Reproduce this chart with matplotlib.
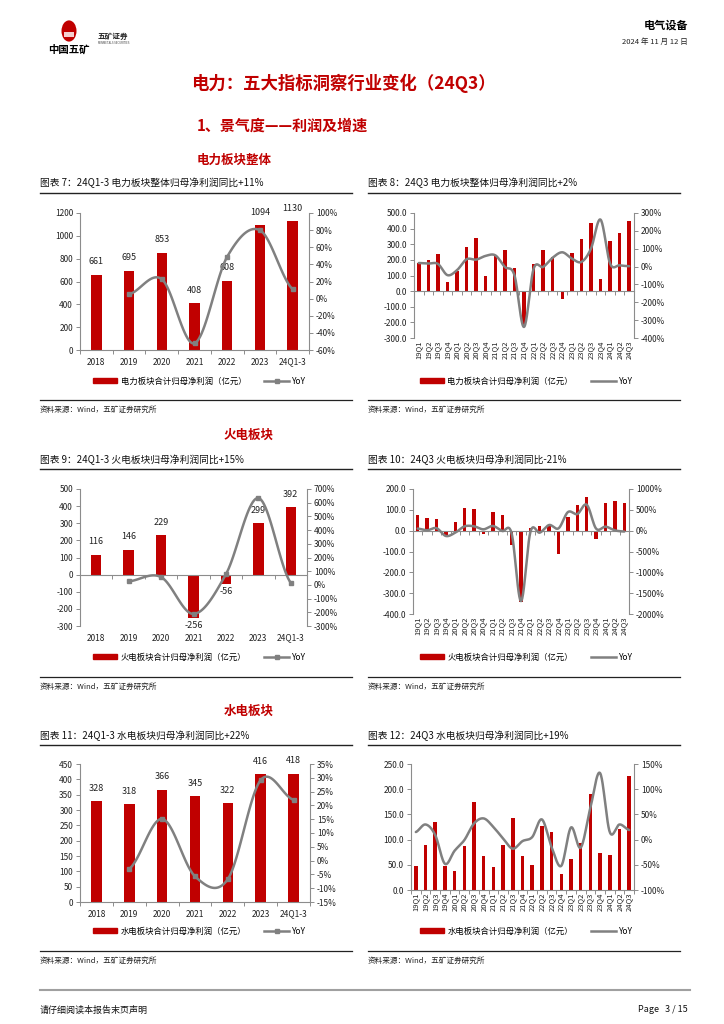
import numpy as np
import matplotlib
matplotlib.use("Agg")
import matplotlib.pyplot as plt
from matplotlib.patches import Patch, Circle, Rectangle
from matplotlib.lines import Line2D
from matplotlib.transforms import blended_transform_factory

plt.rcParams['font.family'] = ['Noto Sans CJK SC', 'DejaVu Sans']
plt.rcParams['axes.unicode_minus'] = False

RED = '#C00000'
GREY = '#808080'
SPINE = '#8c8c8c'
W, H = 724, 1024

# ---- data ----
years = ['2018', '2019', '2020', '2021', '2022', '2023', '24Q1-3']
quarters = ['19Q1', '19Q2', '19Q3', '19Q4', '20Q1', '20Q2', '20Q3', '20Q4',
            '21Q1', '21Q2', '21Q3', '21Q4', '22Q1', '22Q2', '22Q3', '22Q4',
            '23Q1', '23Q2', '23Q3', '23Q4', '24Q1', '24Q2', '24Q3']

# 电力板块整体
power_year = [661, 695, 853, 408, 608, 1094, 1130]
power_year_yoy = [np.nan, 5.1, 22.7, -52.2, 49.0, 79.9, 11.0]
power_q = [180, 200, 240, 61, 127, 280, 340, 95, 225, 262, 148, -225,
           173, 262, 217, -48, 243, 331, 437, 78, 320, 369, 447]
power_q_yoy = [20, 17, 15, -48, -20, 41, 39, 60, 63, -2, -48, -338,
               -13, -2, 50, 80, 45, 26, 100, 263, 17, 7, 2]

# 火电板块
thermal_year = [116, 146, 229, -256, -56, 299, 392]
thermal_year_yoy = [np.nan, 26, 57, -212, 78, 634, 15]
thermal_q = [73, 59, 54, -25, 43, 108, 104, -18, 89, 73, -67, -343,
             11, 24, 25, -113, 64, 121, 161, -38, 131, 142, 131]
thermal_q_yoy = [50, 10, 60, -128, -48, 104, 104, 32, 112, -8, -64, -1690,
                 -32, -48, 136, 56, 447, 400, 622, 48, 96, 8, -21]

# 水电板块
hydro_year = [328, 318, 366, 345, 322, 416, 418]
hydro_year_yoy = [np.nan, -3.0, 15.1, -5.7, -6.7, 29.2, 22.0]
hydro_q = [48, 90, 134, 48, 37, 87, 175, 68, 46, 90, 142, 67,
           50, 126, 115, 32, 61, 93, 190, 73, 70, 122, 226]
hydro_q_yoy = [15, 30, 9, -48, -22, -1, 32, 42, 25, 2, -18, -3,
               5, 40, -15, -52, 24, -16, 63, 132, 15, 30, 19]


def px_axes(fig, l, t, r, b):
    return fig.add_axes([l / W, 1 - b / H, (r - l) / W, (b - t) / H])


def smooth(x, y, n=24):
    # Excel-like smoothed line (Catmull-Rom / Hermite through the points)
    x = np.asarray(x, float)
    y = np.asarray(y, float)
    k = len(y)
    m = np.zeros(k)
    for i in range(k):
        if i == 0:
            m[i] = (y[1] - y[0]) / 2
        elif i == k - 1:
            m[i] = (y[-1] - y[-2]) / 2
        else:
            m[i] = (y[i + 1] - y[i - 1]) / 2
    xs, ys = [], []
    t = np.linspace(0, 1, n)
    for i in range(k - 1):
        h00 = 2 * t**3 - 3 * t**2 + 1
        h10 = t**3 - 2 * t**2 + t
        h01 = -2 * t**3 + 3 * t**2
        h11 = t**3 - t**2
        ys.append(h00 * y[i] + h10 * m[i] + h01 * y[i + 1] + h11 * m[i + 1])
        xs.append(x[i] + t * (x[i + 1] - x[i]))
    return np.concatenate(xs), np.concatenate(ys)


def style_axes(ax, ax2):
    for a in (ax, ax2):
        a.spines['top'].set_visible(False)
        for s in ('left', 'right', 'bottom'):
            a.spines[s].set_color(SPINE)
            a.spines[s].set_linewidth(0.8)
    ax.spines['right'].set_visible(False)
    ax2.spines['left'].set_visible(False)
    ax2.spines['bottom'].set_visible(False)
    for a in (ax, ax2):
        a.tick_params(axis='y', direction='out', length=3, width=0.7, color=SPINE,
                      labelsize=6, pad=2, labelcolor='#222222')


def draw_chart(fig, box, cats, vals, yoy, ylim, ystep, y2lim, y2step,
               yfmt, annual, legend_label, legend_pos):
    ax = px_axes(fig, *box)
    ax2 = ax.twinx()
    n = len(cats)
    x = np.arange(n)
    width = 0.32 if annual else 0.36
    ax.bar(x, vals, width=width, color=RED, zorder=2)
    ax.set_xlim(-0.5, n - 0.5)
    ax.set_ylim(*ylim)
    ax.set_yticks(np.arange(ylim[0], ylim[1] + ystep / 2, ystep))
    ax.yaxis.set_major_formatter(plt.FuncFormatter(lambda v, p: yfmt.format(v)))
    ax2.set_ylim(*y2lim)
    ax2.set_yticks(np.arange(y2lim[0], y2lim[1] + y2step / 2, y2step))
    ax2.yaxis.set_major_formatter(plt.FuncFormatter(lambda v, p: '{:.0f}%'.format(v)))
    style_axes(ax, ax2)

    # zero line as x axis with ticks between categories
    ax.spines['bottom'].set_position(('data', 0))
    ax.set_xticks([])
    ax.set_xticks(np.arange(-0.5, n, 1.0), minor=True)
    ax.tick_params(axis='x', which='minor', direction='out', length=3,
                   width=0.7, color=SPINE)
    trans = blended_transform_factory(ax.transData, ax.transAxes)
    for i, c in enumerate(cats):
        if annual:
            ax.annotate(c, xy=(i, 0), xycoords=trans, xytext=(0, -5.5),
                        textcoords='offset points', ha='center', va='top',
                        fontsize=6, color='#222222')
        else:
            ax.annotate(c, xy=(i, 0), xycoords=trans, xytext=(0, -2),
                        textcoords='offset points', ha='center', va='top',
                        rotation=90, fontsize=5.5, color='#222222')

    # yoy line
    yy = np.asarray(yoy, float)
    ok = ~np.isnan(yy)
    sx, sy = smooth(x[ok], yy[ok])
    ax2.plot(sx, sy, color=GREY, lw=1.8, zorder=3, solid_capstyle='round')
    if annual:
        ax2.plot(x[ok], yy[ok], ls='none', marker='s', ms=3.5, color=GREY, zorder=4)
        for i, v in enumerate(vals):
            if v >= 0:
                ax.annotate(str(v), xy=(i, v), xytext=(0, 6), textcoords='offset points',
                            ha='center', va='bottom', fontsize=6.5, color='#222222')
            else:
                ax.annotate(str(v), xy=(i, v), xytext=(0, -2), textcoords='offset points',
                            ha='center', va='top', fontsize=6.5, color='#222222')
    ax.set_zorder(ax2.get_zorder() - 1)
    ax.patch.set_visible(False)

    handles = [Patch(color=RED),
               Line2D([0], [0], color=GREY, lw=1.8,
                      marker='s' if annual else None, ms=3.5)]
    fig.legend(handles, [legend_label, 'YoY'], loc='center left',
               bbox_to_anchor=(legend_pos[0] / W, 1 - legend_pos[1] / H),
               ncol=2, frameon=False, fontsize=6, handlelength=2.9,
               handleheight=0.6, columnspacing=2.2, handletextpad=0.4,
               borderaxespad=0, borderpad=0)
    return ax


def frame(fig, x0, x1, y_title, y_line, y_bottom, title):
    fig.text(x0 / W, 1 - y_title / H, title, fontsize=7, va='center', ha='left', color='#111111')
    fig.add_artist(Line2D([x0 / W, x1 / W], [1 - y_line / H] * 2, color='#222222', lw=1.0))
    fig.add_artist(Line2D([x0 / W, x1 / W], [1 - y_bottom / H] * 2, color='#222222', lw=0.9))
    fig.text(x0 / W, 1 - (y_bottom + 10) / H, '资料来源：Wind，五矿证券研究所',
             fontsize=5.5, va='center', ha='left', color='#222222')


fig = plt.figure(figsize=(7.24, 10.24), dpi=100)

# ---- header ----
fig.add_artist(Circle((69 / W, 1 - 31 / H), 7.5 / W, transform=fig.transFigure,
                      color=RED, ec='none'))
fig.add_artist(Rectangle((64 / W, 1 - 37 / H), 10 / W, 5 / H, transform=fig.transFigure,
                         color='#f4d0d0', ec='none'))
fig.text(69 / W, 1 - 49 / H, '中国五矿', fontsize=7.5, weight='bold', ha='center', va='center')
fig.text(98 / W, 1 - 36 / H, '五矿证券', fontsize=5.5, weight='bold', ha='left', va='center',
         color='#222222')
fig.text(98 / W, 1 - 43 / H, 'MINMETALS SECURITIES', fontsize=2.0, ha='left', va='center',
         color='#444444')
fig.text(688 / W, 1 - 25 / H, '电气设备', fontsize=8, weight='bold', ha='right', va='center')
fig.text(688 / W, 1 - 42 / H, '2024 年 11 月 12 日', fontsize=5.5, ha='right', va='center',
         color='#222222')

fig.text(343 / W, 1 - 83 / H, '电力：五大指标洞察行业变化（24Q3）', fontsize=12.5,
         weight='bold', ha='center', va='center', color=RED)
fig.text(197 / W, 1 - 126 / H, '1、景气度——利润及增速', fontsize=10.8, weight='bold',
         ha='left', va='center', color=RED)
fig.text(197 / W, 1 - 160 / H, '电力板块整体', fontsize=9, weight='bold',
         ha='left', va='center', color=RED)
fig.text(224 / W, 1 - 435 / H, '火电板块', fontsize=9, weight='bold',
         ha='left', va='center', color=RED)
fig.text(224 / W, 1 - 711 / H, '水电板块', fontsize=9, weight='bold',
         ha='left', va='center', color=RED)

# ---- charts ----
frame(fig, 40, 352, 183, 193, 400, '图表 7：24Q1-3 电力板块整体归母净利润同比+11%')
draw_chart(fig, (80, 213, 309, 350), years, power_year, power_year_yoy,
           (0, 1200), 200, (-60, 100), 20, '{:.0f}', True,
           '电力板块合计归母净利润（亿元）', (93, 381))

frame(fig, 368, 680, 183, 193, 400, '图表 8：24Q3 电力板块整体归母净利润同比+2%')
draw_chart(fig, (414, 213, 634, 338), quarters, power_q, power_q_yoy,
           (-300, 500), 100, (-400, 300), 100, '{:.1f}', False,
           '电力板块合计归母净利润（亿元）', (420, 381))

frame(fig, 40, 352, 460, 469, 677, '图表 9：24Q1-3 火电板块归母净利润同比+15%')
draw_chart(fig, (80, 489, 307, 626), years, thermal_year, thermal_year_yoy,
           (-300, 500), 100, (-300, 700), 100, '{:.0f}', True,
           '火电板块合计归母净利润（亿元）', (93, 657))

frame(fig, 368, 680, 460, 469, 677, '图表 10：24Q3 火电板块归母净利润同比-21%')
draw_chart(fig, (413, 489, 629, 614), quarters, thermal_q, thermal_q_yoy,
           (-400, 200), 100, (-2000, 1000), 500, '{:.1f}', False,
           '火电板块合计归母净利润（亿元）', (420, 657))

frame(fig, 40, 352, 736, 745, 951, '图表 11：24Q1-3 水电板块归母净利润同比+22%')
draw_chart(fig, (80, 764, 310, 902), years, hydro_year, hydro_year_yoy,
           (0, 450), 50, (-15, 35), 5, '{:.0f}', True,
           '水电板块合计归母净利润（亿元）', (93, 931))

frame(fig, 368, 680, 736, 745, 951, '图表 12：24Q3 水电板块归母净利润同比+19%')
draw_chart(fig, (411, 764, 634, 890), quarters, hydro_q, hydro_q_yoy,
           (0, 250), 50, (-100, 150), 50, '{:.1f}', False,
           '水电板块合计归母净利润（亿元）', (420, 931))

# ---- footer ----
fig.add_artist(Line2D([40 / W, 690 / W], [1 - 990 / H] * 2, color='#a0a0a0', lw=1.5))
fig.text(40 / W, 1 - 1010 / H, '请仔细阅读本报告末页声明', fontsize=6.5, style='italic',
         ha='left', va='center', color='#111111')
fig.text(688 / W, 1 - 1010 / H, 'Page   3 / 15', fontsize=6.5, style='italic',
         ha='right', va='center', color='#111111')

fig.savefig('out.png', dpi=100)
